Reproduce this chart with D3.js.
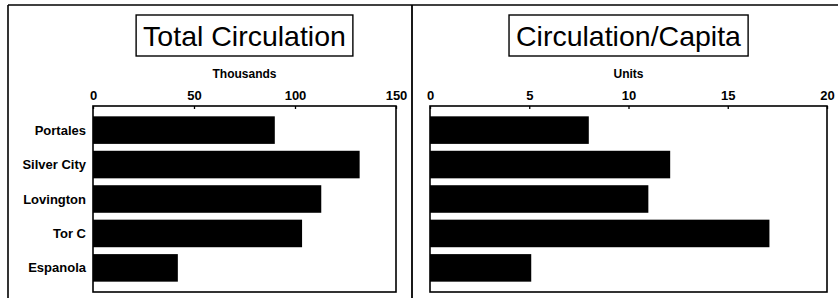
<!DOCTYPE html>
<html>
<head>
<meta charset="utf-8">
<script src="https://cdn.jsdelivr.net/npm/d3@7"></script>
<style>
  body { margin: 0; background: #fff; }
  svg text { font-family: Arial, 'Liberation Sans', sans-serif; fill: #000; }
</style>
</head>
<body>
<script>
// Data
const towns = ['Portales', 'Silver City', 'Lovington', 'Tor C', 'Espanola'];
const totalCirculation = [90, 132, 113, 103.5, 42]; // thousands
const circPerCapita = [8.0, 12.1, 11.0, 17.1, 5.1]; // units
const totalTicks = [0, 50, 100, 150];
const capitaTicks = [0, 5, 10, 15, 20];

const w = 838;
const h = 298;

const svg = d3
  .select('body')
  .append('svg')
  .attr('width', w)
  .attr('height', h);

svg.append('rect').attr('width', w).attr('height', h).attr('fill', '#fff');

// frame lines
svg.append('line').attr('x1', 8).attr('x2', w).attr('y1', 5).attr('y2', 5)
  .attr('stroke', '#000').attr('stroke-width', 1.6);
svg.append('line').attr('x1', 8).attr('x2', 8).attr('y1', 5).attr('y2', h)
  .attr('stroke', '#000').attr('stroke-width', 1.6);
svg.append('line').attr('x1', 412).attr('x2', 412).attr('y1', 5).attr('y2', h)
  .attr('stroke', '#000').attr('stroke-width', 1.8);

const yScale = d3
  .scaleBand()
  .domain(towns)
  .range([106, 292])
  .paddingInner(0.2)
  .paddingOuter(0.3);

function panel(opts) {
  const x = d3.scaleLinear().domain(opts.domain).range([opts.x0, opts.x1]);
  const cx = (opts.x0 + opts.x1) / 2;
  const g = svg.append('g');

  // title box
  const title = g.append('text')
    .attr('x', cx)
    .attr('y', 46)
    .attr('text-anchor', 'middle')
    .attr('font-size', 28.5)
    .text(opts.title);
  const bb = title.node().getBBox();
  g.insert('rect', 'text')
    .attr('x', bb.x - 7)
    .attr('y', 15)
    .attr('width', bb.width + 14)
    .attr('height', 41)
    .attr('fill', '#fff')
    .attr('stroke', '#000')
    .attr('stroke-width', 1.4);

  // axis title
  g.append('text')
    .attr('x', cx)
    .attr('y', 78)
    .attr('text-anchor', 'middle')
    .attr('font-size', 12)
    .attr('font-weight', 'bold')
    .text(opts.unit);

  // bars
  g.selectAll('rect.bar')
    .data(opts.values)
    .enter()
    .append('rect')
    .attr('class', 'bar')
    .attr('x', x(0))
    .attr('y', (d, i) => yScale(towns[i]))
    .attr('width', d => x(d) - x(0))
    .attr('height', yScale.bandwidth())
    .attr('fill', '#000');

  // plot border
  g.append('rect')
    .attr('x', opts.x0)
    .attr('y', 106)
    .attr('width', opts.x1 - opts.x0)
    .attr('height', 186)
    .attr('fill', 'none')
    .attr('stroke', '#000')
    .attr('stroke-width', 1.6);

  // top axis
  const axis = d3.axisTop(x).tickValues(opts.ticks).tickSize(-3).tickPadding(6);
  const ag = g.append('g').attr('transform', 'translate(0,106)').call(axis);
  ag.select('.domain').remove();
  ag.selectAll('line').attr('stroke', '#000').attr('stroke-width', 1.3);
  ag.selectAll('text')
    .attr('font-size', 13)
    .attr('font-weight', 'bold')
    .attr('fill', '#000')
    .style('font-family', "Arial, 'Liberation Sans', sans-serif");

  return g;
}

panel({
  title: 'Total Circulation',
  unit: 'Thousands',
  domain: [0, 150],
  ticks: totalTicks,
  values: totalCirculation,
  x0: 93,
  x1: 396
});

panel({
  title: 'Circulation/Capita',
  unit: 'Units',
  domain: [0, 20],
  ticks: capitaTicks,
  values: circPerCapita,
  x0: 430,
  x1: 827
});

// category labels (left panel only)
svg.selectAll('text.cat')
  .data(towns)
  .enter()
  .append('text')
  .attr('class', 'cat')
  .attr('x', 86)
  .attr('y', d => yScale(d) + yScale.bandwidth() / 2 + 4.5)
  .attr('text-anchor', 'end')
  .attr('font-size', 13)
  .attr('font-weight', 'bold')
  .text(d => d);
</script>
</body>
</html>
